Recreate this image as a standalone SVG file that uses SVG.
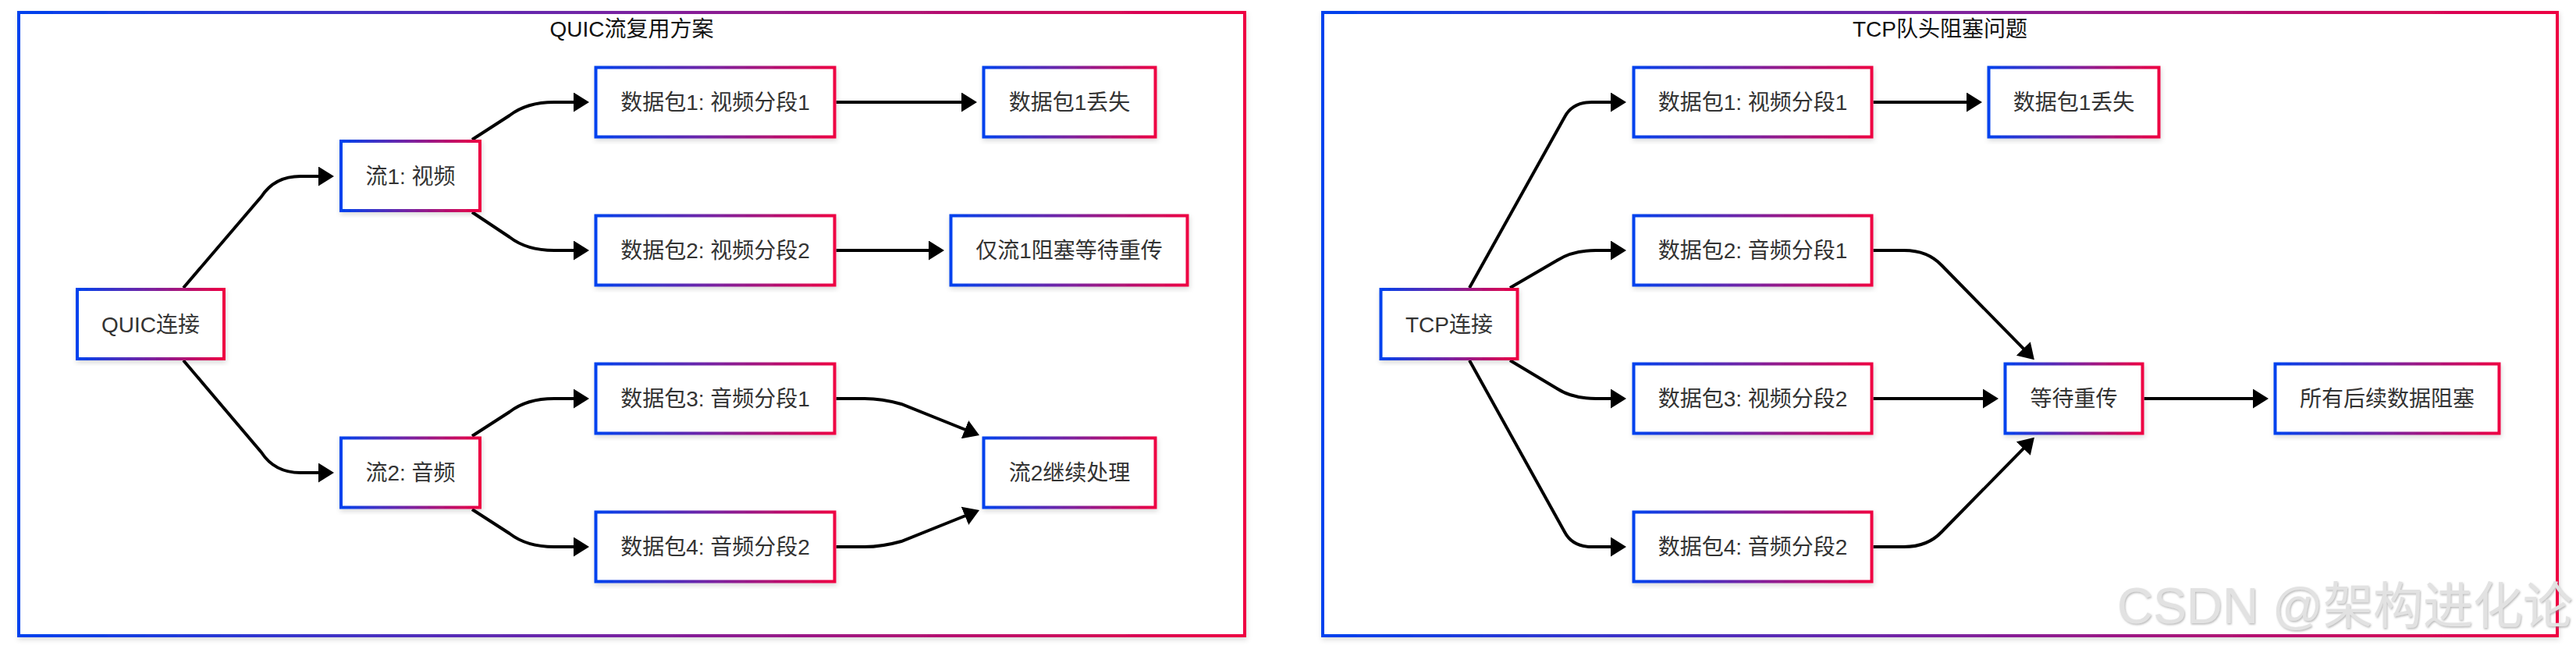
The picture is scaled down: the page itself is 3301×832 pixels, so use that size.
<svg xmlns="http://www.w3.org/2000/svg" width="3301" height="832" viewBox="0 0 3301 832">
<style>
.box{fill:#ffffff;stroke:url(#grad);stroke-width:4;filter:url(#shadow)}
.container{fill:#ffffff;stroke:url(#grad);stroke-width:4;filter:url(#shadow)}
.label{font-family:"Liberation Sans","Noto Sans CJK SC",sans-serif;font-size:28px;fill:#333333;text-anchor:middle}
.title{font-family:"Liberation Sans","Noto Sans CJK SC",sans-serif;font-size:28px;fill:#111111;text-anchor:middle}
.edge{fill:none;stroke:#000000;stroke-width:4;marker-end:url(#arrow)}
.wm{font-family:"Liberation Sans","Noto Sans CJK SC",sans-serif;font-size:64px;fill:#e2e2e2;text-anchor:end;filter:url(#wmshadow)}
</style>
<defs>
<linearGradient id="grad" x1="0" y1="0" x2="1" y2="0">
<stop offset="0" stop-color="#0042ee"/>
<stop offset="0.5" stop-color="#7a22a0"/>
<stop offset="1" stop-color="#ee0042"/>
</linearGradient>
<filter id="shadow" x="-5%" y="-5%" width="110%" height="115%">
<feDropShadow dx="1" dy="3" stdDeviation="3" flood-color="#000000" flood-opacity="0.15"/>
</filter>
<filter id="wmshadow" x="-5%" y="-20%" width="110%" height="140%">
<feDropShadow dx="1" dy="1.5" stdDeviation="0.8" flood-color="#888888" flood-opacity="0.6"/>
</filter>
<marker id="arrow" markerUnits="userSpaceOnUse" markerWidth="20" markerHeight="25" refX="1" refY="12.5" orient="auto">
<path d="M0,0 L20,12.5 L0,25 Z" fill="#000000"/>
</marker>
</defs>
<rect width="3301" height="832" fill="#ffffff"/>

<g id="cluster-quic">
<rect class="container" x="24" y="16" width="1571" height="799"/>
<text class="title" x="809.5" y="47">QUIC流复用方案</text>
</g>
<g id="cluster-tcp">
<rect class="container" x="1695" y="16" width="1582" height="799"/>
<text class="title" x="2486" y="47">TCP队头阻塞问题</text>
</g>

<g id="connectors">
<path class="edge" d="M235,369 L335,252 Q352,226 385,226 L409,226"/>
<path class="edge" d="M235,462 L335,580 Q352,606 385,606 L409,606"/>
<path class="edge" d="M605,179 L653,148 Q675,131 710,131 L736,131"/>
<path class="edge" d="M605,272 L653,304 Q675,321 710,321 L736,321"/>
<path class="edge" d="M605,559 L653,528 Q675,511 710,511 L736,511"/>
<path class="edge" d="M605,653 L653,684 Q675,701 710,701 L736,701"/>
<path class="edge" d="M1071.5,131 L1233,131"/>
<path class="edge" d="M1071.5,321 L1191,321"/>
<path class="edge" d="M1071.5,511 L1108,511 Q1130,511 1155,518 L1237.4,551"/>
<path class="edge" d="M1071.5,701 L1108,701 Q1130,701 1155,694 L1237.4,661"/>

<path class="edge" d="M1883,369 L2005,150 Q2015,131 2040,131 L2065,131"/>
<path class="edge" d="M1935,369 L1995,334 Q2015,321 2045,321 L2065,321"/>
<path class="edge" d="M1935,462 L1995,498 Q2015,511 2045,511 L2065,511"/>
<path class="edge" d="M1883,462 L2005,682 Q2015,701 2040,701 L2065,701"/>
<path class="edge" d="M2400.5,131 L2521,131"/>
<path class="edge" d="M2400.5,321 L2440,321 Q2470,321 2488,340 L2593.6,447.6"/>
<path class="edge" d="M2400.5,511 L2542,511"/>
<path class="edge" d="M2400.5,701 L2440,701 Q2470,701 2488,682 L2593.6,574.4"/>
<path class="edge" d="M2747.5,511 L2888,511"/>
</g>

<g id="quic-conn"><rect class="box" x="99" y="371" width="188" height="89"/><text class="label" x="193" y="426">QUIC连接</text></g>
<g id="stream1"><rect class="box" x="437" y="181" width="178" height="89"/><text class="label" x="526" y="236">流1: 视频</text></g>
<g id="stream2"><rect class="box" x="437" y="561.5" width="178" height="89"/><text class="label" x="526" y="616">流2: 音频</text></g>
<g id="q-pkt1"><rect class="box" x="763.5" y="86.5" width="306" height="89"/><text class="label" x="916.5" y="141">数据包1: 视频分段1</text></g>
<g id="q-pkt2"><rect class="box" x="763.5" y="276.5" width="306" height="89"/><text class="label" x="916.5" y="331">数据包2: 视频分段2</text></g>
<g id="q-pkt3"><rect class="box" x="763.5" y="466.5" width="306" height="89"/><text class="label" x="916.5" y="521">数据包3: 音频分段1</text></g>
<g id="q-pkt4"><rect class="box" x="763.5" y="656.5" width="306" height="89"/><text class="label" x="916.5" y="711">数据包4: 音频分段2</text></g>
<g id="q-lost"><rect class="box" x="1260.5" y="86.5" width="220" height="89"/><text class="label" x="1370.5" y="141">数据包1丢失</text></g>
<g id="q-only"><rect class="box" x="1218.5" y="276.5" width="303" height="89"/><text class="label" x="1370" y="331">仅流1阻塞等待重传</text></g>
<g id="q-cont"><rect class="box" x="1260.5" y="561.5" width="220" height="89"/><text class="label" x="1370.5" y="616">流2继续处理</text></g>

<g id="tcp-conn"><rect class="box" x="1769.5" y="371" width="175" height="89"/><text class="label" x="1857" y="426">TCP连接</text></g>
<g id="t-pkt1"><rect class="box" x="2093.5" y="86.5" width="305" height="89"/><text class="label" x="2246" y="141">数据包1: 视频分段1</text></g>
<g id="t-pkt2"><rect class="box" x="2093.5" y="276.5" width="305" height="89"/><text class="label" x="2246" y="331">数据包2: 音频分段1</text></g>
<g id="t-pkt3"><rect class="box" x="2093.5" y="466.5" width="305" height="89"/><text class="label" x="2246" y="521">数据包3: 视频分段2</text></g>
<g id="t-pkt4"><rect class="box" x="2093.5" y="656.5" width="305" height="89"/><text class="label" x="2246" y="711">数据包4: 音频分段2</text></g>
<g id="t-lost"><rect class="box" x="2548.5" y="86.5" width="218" height="89"/><text class="label" x="2657.5" y="141">数据包1丢失</text></g>
<g id="t-wait"><rect class="box" x="2569.5" y="466.5" width="176" height="89"/><text class="label" x="2657.5" y="521">等待重传</text></g>
<g id="t-all"><rect class="box" x="2915.5" y="466.5" width="287" height="89"/><text class="label" x="3059" y="521">所有后续数据阻塞</text></g>

<text class="wm" x="3297" y="799">CSDN @架构进化论</text>
</svg>
